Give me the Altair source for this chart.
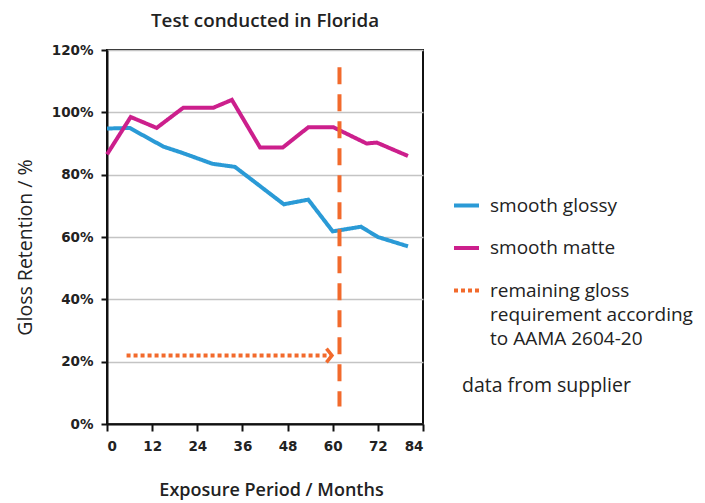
import altair as alt
import pandas as pd

# ---- data ----
glossy_months = [0, 6, 15, 20, 28, 34, 47, 53.5, 60, 67.5, 72, 80]
glossy_values = [94.8, 95, 89, 87, 83.5, 82.5, 70.5, 72, 61.8, 63.3, 60, 57]

matte_months = [0, 6.3, 13.2, 20.3, 28.3, 33.2, 40.7, 46.7, 53.5, 60.2, 69, 71.7, 80]
matte_values = [86.5, 98.5, 95, 101.5, 101.5, 104, 88.7, 88.7, 95.2, 95.2, 90, 90.3, 86]

arrow_months = [5.2, 59.8]
arrow_values = [22, 22]

limit_month = [61.8]
limit_low = [5.6]
limit_high = [114.5]

series_names = ["smooth glossy", "smooth matte",
                "remaining gloss|requirement according|to AAMA 2604-20"]
series_colors = ["#2a9ad6", "#cc1f8c", "#f26a2c"]
x_ticks = [0, 6, 12, 18, 24, 30, 36, 42, 48, 54, 60, 66, 72, 78, 84]
y_ticks = [0, 20, 40, 60, 80, 100, 120]

rows = []
for m, v in zip(glossy_months, glossy_values):
    rows.append({"month": m, "value": v, "series": series_names[0]})
for m, v in zip(matte_months, matte_values):
    rows.append({"month": m, "value": v, "series": series_names[1]})
for m, v in zip(arrow_months, arrow_values):
    rows.append({"month": m, "value": v, "series": series_names[2]})
df = pd.DataFrame(rows)
head_df = pd.DataFrame({"month": [arrow_months[-1]], "value": [arrow_values[-1]]})
limit_df = pd.DataFrame({"month": limit_month, "lo": limit_low, "hi": limit_high})

TICK_FONT = "DejaVu Sans"
TEXT_FONT = "Open Sans"

xscale = alt.Scale(domain=[0, 84], nice=False)
yscale = alt.Scale(domain=[0, 120], nice=False)

x_axis = alt.Axis(
    values=x_ticks, labelExpr="datum.value % 12 == 0 ? datum.label : ''",
    title="Exposure Period / Months", grid=False,
    tickSize=7, tickWidth=2, tickColor="#111", domainColor="#111", domainWidth=2,
    labelFont=TICK_FONT, labelFontWeight="bold", labelFontSize=13.5, labelColor="#222",
    labelPadding=8, titleFont=TEXT_FONT, titleFontSize=18, titleFontWeight=600,
    titleColor="#222", titleX=164, titleY=66, titleAlign="center", titleBaseline="middle",
)
y_axis = alt.Axis(
    values=y_ticks, labelExpr="datum.value + '%'",
    title="Gloss Retention / %", grid=True, gridColor="#c4c4c4", gridWidth=1.3,
    tickSize=6, tickWidth=2, tickColor="#111", domainColor="#111", domainWidth=2,
    labelFont=TICK_FONT, labelFontWeight="bold", labelFontSize=13.5, labelColor="#222",
    labelPadding=8, titleFont=TEXT_FONT, titleFontSize=19.5, titleFontWeight=500,
    titleColor="#222", titleX=-82, titleY=197, titleAlign="center",
    titleBaseline="middle", titleAngle=270,
)

legend = alt.Legend(
    title=None, orient="none", legendX=345, legendY=141,
    symbolType="stroke", symbolSize=625, symbolStrokeWidth=4,
    labelFont=TEXT_FONT, labelFontSize=19, labelFontWeight=500, labelColor="#222",
    labelExpr="split(datum.label, '|')", labelOffset=9, rowPadding=17.5,
    labelLimit=300, labelBaseline="middle",
)

lines = alt.Chart(df).mark_line(strokeWidth=4, strokeCap="butt", strokeJoin="miter").encode(
    x=alt.X("month:Q", scale=xscale, axis=x_axis),
    y=alt.Y("value:Q", scale=yscale, axis=y_axis),
    color=alt.Color("series:N", scale=alt.Scale(domain=series_names, range=series_colors),
                    legend=legend),
    strokeDash=alt.StrokeDash("series:N",
                              scale=alt.Scale(domain=series_names,
                                              range=[[1, 0], [1, 0], [4, 3]]),
                              legend=legend),
    order="month:Q",
)

head = alt.Chart(head_df).mark_point(
    shape="M-0.8,-1L0,0L-0.8,1", size=190, filled=False, stroke="#f26a2c", strokeWidth=3.5,
    opacity=1,
).encode(x=alt.X("month:Q", scale=xscale), y=alt.Y("value:Q", scale=yscale))

limit = alt.Chart(limit_df).mark_rule(color="#f26a2c", strokeWidth=4, strokeDash=[17, 10]).encode(
    x=alt.X("month:Q", scale=xscale), y=alt.Y("hi:Q", scale=yscale), y2="lo:Q",
)

note = alt.Chart(pd.DataFrame({"t": ["data from supplier"]})).mark_text(
    align="left", baseline="middle", font=TEXT_FONT, fontSize=19.5, fontWeight=500, color="#222",
).encode(x=alt.value(355), y=alt.value(336), text="t:N")

chart = alt.layer(lines, head, limit, note).properties(
    width=316, height=374,
    title=alt.TitleParams("Test conducted in Florida", font=TEXT_FONT, fontSize=18.8,
                          fontWeight=600, color="#222", anchor="middle", offset=12),
    autosize=alt.AutoSizeParams(type="none"),
    padding={"left": 99, "top": 42, "right": 274, "bottom": 77},
).configure(
    background="white",
    style={"guide-label": {"lineHeight": 24}},
    view=alt.ViewConfig(stroke="#111", strokeWidth=2),
)

chart.save("out.html", embed_options={"renderer": "svg", "actions": False})
